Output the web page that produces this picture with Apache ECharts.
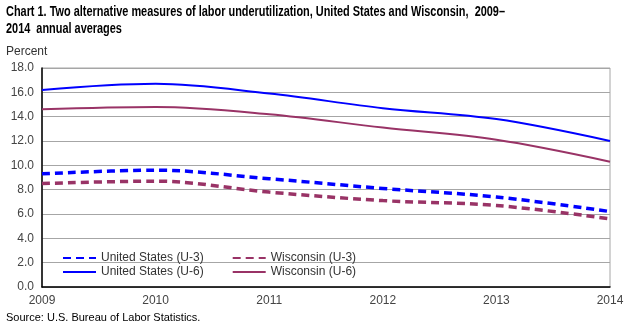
<!DOCTYPE html>
<html>
<head>
<meta charset="utf-8">
<script src="https://cdn.jsdelivr.net/npm/echarts@6/dist/echarts.min.js"></script>
<style>
  html, body { margin: 0; padding: 0; background: #fff; }
  #chart { width: 633px; height: 329px; }
</style>
</head>
<body>
<div id="chart"></div>
<script>
// Annual averages, percent
const years = ['2009', '2010', '2011', '2012', '2013', '2014'];
const usU3 = [9.3, 9.6, 8.9, 8.1, 7.4, 6.2];
const wiU3 = [8.5, 8.7, 7.8, 7.1, 6.7, 5.6];
const usU6 = [16.2, 16.7, 15.9, 14.7, 13.8, 12.0];
const wiU6 = [14.6, 14.8, 14.2, 13.1, 12.1, 10.3];
const yTicks = { min: 0, max: 18, interval: 2 };

const titleLines = [
  'Chart 1. Two alternative measures of labor underutilization, United States and Wisconsin,  2009–',
  '2014  annual averages'
];

const BLUE = '#0000ff';
const PLUM = '#993366';
const FONT = '"Liberation Sans", Arial, sans-serif';
const TITLE_FONT = 'bold 14px "Liberation Sans", Arial, sans-serif';

// Condense the bold title so its first line spans about 500px
const measure = document.createElement('canvas').getContext('2d');
measure.font = TITLE_FONT;
const titleScale = Math.min(1, 499 / measure.measureText(titleLines[0]).width);

const chart = echarts.init(document.getElementById('chart'), null, { renderer: 'canvas' });

function lineSeries(name, data, color, dashed) {
  return {
    name: name,
    type: 'line',
    data: data,
    smooth: 0.35,
    symbol: 'none',
    showSymbol: false,
    lineStyle: {
      color: color,
      width: dashed ? 3.5 : 2,
      type: dashed ? [8, 5] : 'solid',
      cap: 'butt'
    },
    itemStyle: { color: color },
    z: dashed ? 3 : 2
  };
}

const legendCommon = {
  orient: 'horizontal',
  itemWidth: 33,
  itemHeight: 10,
  itemGap: 28,
  padding: 0,
  itemStyle: { opacity: 0 },
  textStyle: { fontFamily: FONT, fontSize: 12, color: '#333' },
  selectedMode: false
};

chart.setOption({
  animation: false,
  backgroundColor: '#ffffff',
  title: [
    {
      text: 'Percent',
      left: 6, top: 46, padding: 0,
      textStyle: { fontFamily: FONT, fontSize: 12, fontWeight: 'normal', color: '#333' }
    },
    {
      text: 'Source: U.S. Bureau of Labor Statistics.',
      left: 6, top: 312, padding: 0,
      textStyle: { fontFamily: FONT, fontSize: 11, fontWeight: 'normal', color: '#000' }
    }
  ],
  graphic: titleLines.map((line, i) => ({
    type: 'text',
    left: 6,
    top: 5 + i * 17,
    scaleX: titleScale,
    originX: 0,
    style: { text: line, font: TITLE_FONT, fill: '#000' }
  })),
  legend: [
    Object.assign({ data: ['United States (U-3)', 'Wisconsin (U-3)'], left: 62, top: 252 }, legendCommon),
    Object.assign({ data: ['United States (U-6)', 'Wisconsin (U-6)'], left: 62, top: 266 }, legendCommon)
  ],
  grid: {
    left: 42, right: 23, top: 68, bottom: 42,
    show: true, borderColor: '#a6a6a6', borderWidth: 1
  },
  xAxis: {
    type: 'category',
    data: years,
    boundaryGap: false,
    axisLine: { show: true, lineStyle: { color: '#000', width: 1.5 } },
    axisTick: { show: false },
    axisLabel: { fontFamily: FONT, fontSize: 12, color: '#444', margin: 8,
      showMinLabel: true, showMaxLabel: true, interval: 0 },
    splitLine: { show: false }
  },
  yAxis: {
    type: 'value',
    min: yTicks.min, max: yTicks.max, interval: yTicks.interval,
    axisLine: { show: true, lineStyle: { color: '#000', width: 1.5 } },
    axisTick: { show: false },
    axisLabel: {
      fontFamily: FONT, fontSize: 12, color: '#444', margin: 8,
      formatter: v => v.toFixed(1)
    },
    splitLine: { show: true, lineStyle: { color: '#a6a6a6', width: 1 } }
  },
  series: [
    lineSeries('United States (U-3)', usU3, BLUE, true),
    lineSeries('Wisconsin (U-3)', wiU3, PLUM, true),
    lineSeries('United States (U-6)', usU6, BLUE, false),
    lineSeries('Wisconsin (U-6)', wiU6, PLUM, false)
  ]
});
</script>
</body>
</html>
